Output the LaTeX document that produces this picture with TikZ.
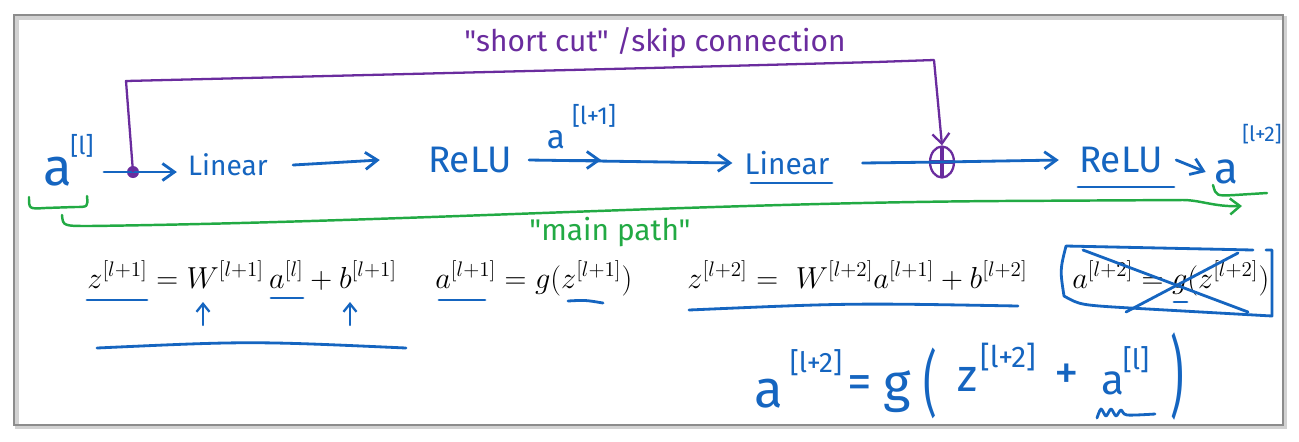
\documentclass[tikz,border=0pt]{standalone}
\usepackage{fontspec}
\usepackage{tikz}
\usetikzlibrary{arrows.meta,calc,positioning,shapes.geometric}
\newfontfamily\handfont{Fira Sans}
\definecolor{penblue}{RGB}{21,101,192}
\definecolor{penpurple}{RGB}{106,44,158}
\definecolor{pengreen}{RGB}{34,170,68}
\definecolor{framegray}{gray}{0.55}

\begin{document}
\begin{tikzpicture}[
  x=0.02cm, y=-0.02cm,
  pen/.style={draw=penblue,line width=1.6pt,line cap=round,line join=round},
  flow/.style={pen,-{Straight Barb[length=2.4mm,width=3.4mm]}},
  uparrow/.style={pen,line width=1.3pt,-{Straight Barb[length=1.6mm,width=2.6mm]}},
  skip/.style={draw=penpurple,line width=1.3pt,line join=round,-{Straight Barb[length=2mm,width=3.4mm]}},
  greenpen/.style={draw=pengreen,line width=1.4pt,line cap=round,line join=round},
  hw/.style={text=penblue,inner sep=0pt,font={\handfont\fontsize{#1}{#1}\selectfont}},
  eqn/.style={inner sep=0pt,anchor=base west,font=\fontsize{17.5}{20}\selectfont},
  sumnode/.style={ellipse,draw=penpurple,line width=1.3pt,minimum width=0.48cm,minimum height=0.62cm,inner sep=0pt,
    path picture={\draw[penpurple,line width=2pt]
      (path picture bounding box.north) -- (path picture bounding box.south)
      (path picture bounding box.west) -- (path picture bounding box.east);}},
  dot/.style={circle,fill=penpurple,inner sep=0pt,minimum size=0.24cm}
]
\useasboundingbox (0,0) rectangle (1299,441);
\fill[white] (0,0) rectangle (1299,441);
% slide frame
\draw[gray!35,line width=2.5pt] (17,18) rectangle (1285,427);
\draw[framegray,line width=1.6pt] (14,15) rectangle (1283,425);

% main path
\node[hw=30] (al) at (58,172) {a};
\node[hw=14] (alsup) at (82,146) {[l]};
\node[hw=16] (lin1) at (228,165) {Linear};
\node[hw=21] (relu1) at (470,160) {ReLU};
\node[hw=19] (al1) at (556,140) {a};
\node[hw=14] (al1sup) at (594,116) {[l+1]};
\node[hw=17] (lin2) at (787,163) {Linear};
\node[sumnode] (plus) at (942,162) {};
\node[hw=21] (relu2) at (1121,160) {ReLU};
\node[hw=25] (al2) at (1226,172) {a};
\node[hw=12] (al2sup) at (1262,134) {[l+2]};

\node[dot] (split) at (133,172) {};
\coordinate (in0) at (104,172);
\draw[flow] (in0) -- (split.center) -- ([xshift=-0.22cm]lin1.west |- in0);
\draw[flow] ([xshift=0.5cm]lin1.east) -- ([xshift=-0.96cm]relu1.west);
\draw[flow] ([xshift=0.34cm]relu1.east) -- ([xshift=-0.24cm]lin2.west);
\draw[flow] ([xshift=0.34cm]relu1.east) -- ++(72,0);
\draw[flow] ([xshift=0.66cm]lin2.east) -- (plus.center) -- ([xshift=-0.4cm]relu2.west);
\draw[flow] ([xshift=0.26cm]relu2.east) -- ([xshift=-0.16cm]al2.west);
\draw[pen] (751,183) -- (832,183);
\draw[pen] (1078,187) -- (1174,187);

% skip connection
\draw[skip] (split.center) -- (126,81) -- (650,68) -- (876,62) -- (934,60) -- (plus.north);
\node[hw=17,text=penpurple] (sc) at (655,43) {"short cut" /skip connection};

% main path marks
\coordinate (mpstart) at (62,215);
\coordinate (mpend) at (1242,206);
\draw[greenpen] (29,197) .. controls (29,209) .. (45,208) -- (75,207) .. controls (88,207) .. (87,196);
\draw[greenpen,-{Straight Barb[length=2mm,width=3.2mm]}] (mpstart) .. controls (63,226) .. (90,226)
  .. controls (400,222) and (700,203) .. (1000,201) -- (1183,200)
  .. controls (1200,200) and (1215,207) .. (mpend);
\draw[greenpen] (1213,185) .. controls (1216,196) .. (1235,195) -- (1267,193);
\node[hw=17,text=pengreen] (mp) at (610,232) {"main path"};

% typed equations
\node[eqn] (eq1) at (87,288) {$z^{[l+1]} = W^{[l+1]}\, a^{[l]} + b^{[l+1]}$};
\node[eqn] (eq2) at (435,288) {$a^{[l+1]} = g(z^{[l+1]})$};
\node[eqn] (eq3) at (687,288) {$z^{[l+2]} = \ W^{[l+2]}a^{[l+1]} + b^{[l+2]}$};
\node[eqn] (eq4) at (1072,288) {$a^{[l+2]} = g(z^{[l+2]})$};

% ink on the equations
\draw[pen] (87,300) -- (147,300);
\draw[pen] (271,298) -- (303,298);
\draw[uparrow] (203,325) -- (203,302);
\draw[uparrow] (350,325) -- (350,302);
\draw[pen] (439,300) -- (485,300);
\draw[pen] (568,301) .. controls (585,300) .. (603,303);
\draw[pen] (97,348) .. controls (250,341) .. (406,348);
\draw[pen] (689,310) .. controls (850,303) .. (1018,306);
\draw[pen] (1253,250) -- (1066,246) .. controls (1060,270) .. (1064,296)
  .. controls (1080,305) .. (1130,308) -- (1272,316) -- (1272,250) -- (1266,250);
\draw[pen] (1083,250) -- (1248,312);
\draw[pen] (1126,312) -- (1238,253);
\draw[pen] (1174,302) -- (1187,302);

% handwritten result
\node[hw=30] (ar) at (769,394) {a};
\node[hw=16] (arsup) at (816,363) {[l+2]};
\node[hw=28] (eqs) at (860,387) {=};
\node[hw=30] (gr) at (897,392) {g};
\node[hw=24] (lp) at (930,383) {\scalebox{1}[1.7]{(}};
\node[hw=26] (zr) at (967,379) {z};
\node[hw=17] (zrsup) at (1008,357) {[l+2]};
\node[hw=28] (pl) at (1067,377) {+};
\node[hw=24] (ar2) at (1113,383) {a};
\node[hw=16] (ar2sup) at (1136,360) {[l]};
\node[hw=24] (rp) at (1177,376) {\scalebox{1}[2.1]{)}};
\draw[pen] plot[smooth] coordinates {(1097,418) (1101,409) (1106,416) (1111,409) (1116,416) (1121,410) (1127,415) (1155,414)};
\end{tikzpicture}
\end{document}
